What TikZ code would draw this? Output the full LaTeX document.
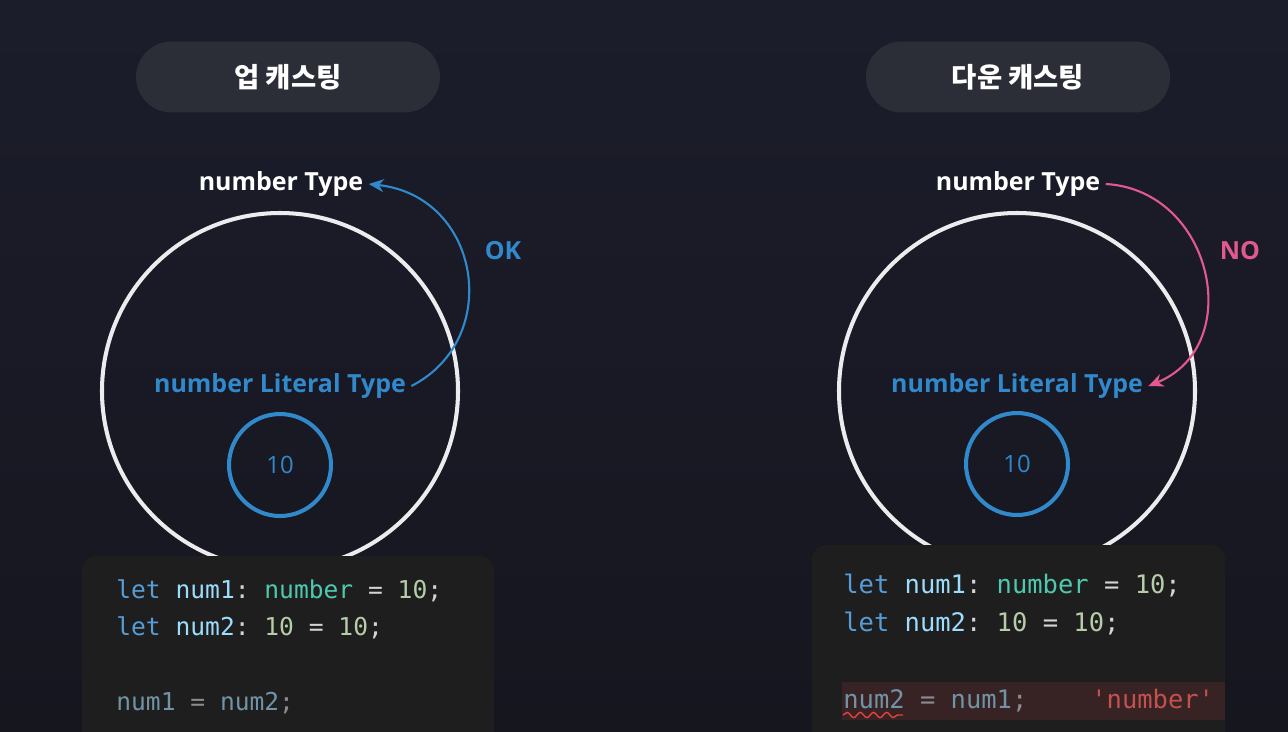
\documentclass[tikz,border=0pt]{standalone}
\usepackage{fontspec}
\newfontfamily\labelfont{Open Sans}
\newfontfamily\krfont{Noto Sans CJK KR}
\setmonofont{DejaVu Sans Mono}
\usetikzlibrary{arrows.meta,decorations.pathmorphing,calc}

\definecolor{bgtop}{HTML}{1C1D2B}
\definecolor{bgbot}{HTML}{15161E}
\definecolor{pillgray}{HTML}{2C2E37}
\definecolor{ringwhite}{HTML}{ECECEF}
\definecolor{litblue}{HTML}{3189CB}
\definecolor{nopink}{HTML}{E2598F}
\definecolor{codebg}{HTML}{1E1E1E}
\definecolor{kwlet}{HTML}{569CD6}
\definecolor{kwvar}{HTML}{9CDCFE}
\definecolor{kwtype}{HTML}{4EC9B0}
\definecolor{kwnum}{HTML}{B5CEA8}
\definecolor{kwpunct}{HTML}{D4D4D4}
\definecolor{kwfade}{HTML}{7193A6}
\definecolor{kwfadegray}{HTML}{8A8C90}
\definecolor{errband}{HTML}{372224}
\definecolor{errtext}{HTML}{C4504F}
\definecolor{errwave}{HTML}{E0443E}

\tikzset{
    pill/.style = {fill=pillgray, rounded corners=0.71cm, minimum width=6.08cm,
        minimum height=1.42cm, text=white, font=\krfont\bfseries\fontsize{15.6}{18}\selectfont},
    typelabel/.style = {text=white, inner sep=3pt, font=\labelfont\bfseries\fontsize{14.2}{17}\selectfont},
    litlabel/.style = {text=litblue, inner sep=3pt, font=\labelfont\bfseries\fontsize{14.2}{17}\selectfont},
    bigring/.style = {draw=ringwhite, line width=2.3pt},
    smallring/.style = {draw=litblue, line width=2.3pt, circle, minimum size=2.04cm,
        text=litblue, font=\labelfont\fontsize{13.6}{16}\selectfont},
    codebox/.style = {fill=codebg, rounded corners=0.28cm},
    codeline/.style = {anchor=base west, inner sep=0pt, font=\ttfamily\fontsize{14}{16}\selectfont},
    codelinebig/.style = {codeline, font=\ttfamily\fontsize{14.5}{17}\selectfont},
    castarrow/.style = {line width=1.2pt, -{Stealth[length=3mm, width=2.6mm]}}
}

\newcommand{\kwl}{\textcolor{kwlet}{let}}
\newcommand{\kwv}[1]{\textcolor{kwvar}{#1}}
\newcommand{\kwp}[1]{\textcolor{kwpunct}{#1}}
\newcommand{\kwn}[1]{\textcolor{kwnum}{#1}}

\begin{document}
\begin{tikzpicture}[x=0.02cm, y=-0.02cm]
    % page and background
    \useasboundingbox (0,0) rectangle (1288,731);
    \shade[top color=bgtop, bottom color=bgbot] (0,0) rectangle (1288,731);

    %%%%%%%%%%%%%% up casting (left) %%%%%%%%%%%%%%
    \node[pill] (titleL) at (288,77) {업 캐스팅};

    % outer set and inner value
    \draw[bigring] (280,391) circle (178);
    \node[smallring] (valL) at (280,465) {10};

    \node[typelabel] (typL) at (281,184) {number Type};
    \node[litlabel] (litL) at (280,386) {number Literal Type};

    % literal -> number is fine
    \draw[castarrow, litblue] (litL.east) .. controls +(92,-47) and +(112,12) .. (typL.east);
    \node[litlabel] (okL) at (503,251) {OK};

    % code
    \fill[codebox] (82,556) rectangle (494,760);
    \node[codeline] (ln1L) at (116,598) {\kwl{} \kwv{num1}\kwp{:} \textcolor{kwtype}{number} \kwp{=} \kwn{10}\kwp{;}};
    \node[codeline] (ln2L) at (116,635) {\kwl{} \kwv{num2}\kwp{:} \kwn{10} \kwp{=} \kwn{10}\kwp{;}};
    \node[codeline, text=kwfade] (ln3L) at (116,710) {num1 \textcolor{kwfadegray}{=} num2\textcolor{kwfadegray}{;}};

    %%%%%%%%%%%%%% down casting (right) %%%%%%%%%%%%%%
    \node[pill] (titleR) at (1018,77) {다운 캐스팅};

    \draw[bigring] (1017,391) circle (178);
    \node[smallring] (valR) at (1017,464) {10};

    \node[typelabel] (typR) at (1018,184) {number Type};
    \node[litlabel] (litR) at (1017,386) {number Literal Type};

    % number -> literal is not allowed
    \draw[castarrow, nopink] (typR.east) .. controls +(107,6) and +(98,-40) .. (litR.east);
    \node[typelabel, text=nopink] (noR) at (1240,251) {NO};

    % code, last line marked as error
    \fill[codebox] (812,545) rectangle (1225,760);
    \fill[errband] (842,682) rectangle (1225,720);
    \node[codelinebig] (ln1R) at (843,593) {\kwl{} \kwv{num1}\kwp{:} \textcolor{kwtype}{number} \kwp{=} \kwn{10}\kwp{;}};
    \node[codelinebig] (ln2R) at (843,631) {\kwl{} \kwv{num2}\kwp{:} \kwn{10} \kwp{=} \kwn{10}\kwp{;}};
    \node[codelinebig, text=kwfade] (ln3R) at (843,708) {num2 \textcolor{kwfadegray}{=} num1\textcolor{kwfadegray}{;}};
    \node[codelinebig, text=errtext] (errR) at (1091,708) {'number'};
    \draw[errwave, line width=0.8pt, decorate, decoration={snake, amplitude=1.5, segment length=7.5}]
        ($(ln3R.base west)+(0,7)$) -- +(60,0);
\end{tikzpicture}
\end{document}
